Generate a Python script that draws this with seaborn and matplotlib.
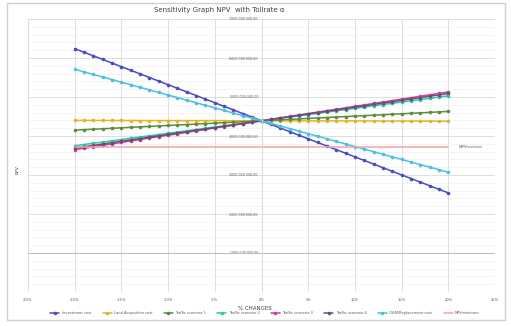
import matplotlib
matplotlib.use("Agg")
import matplotlib.pyplot as plt
from matplotlib.ticker import FuncFormatter, MultipleLocator
from matplotlib.patches import Rectangle
import seaborn as sns

# Percentage change applied to each input variable
changes = list(range(-20, 21))

# NPV in billions for each sensitivity variable
investment_cost = [6.240, 6.148, 6.055, 5.963, 5.870, 5.778, 5.685, 5.593, 5.500, 5.408,
                   5.315, 5.223, 5.130, 5.038, 4.945, 4.853, 4.760, 4.668, 4.575, 4.483,
                   4.390, 4.298, 4.205, 4.113, 4.020, 3.928, 3.835, 3.743, 3.650, 3.558,
                   3.465, 3.373, 3.280, 3.188, 3.095, 3.003, 2.910, 2.818, 2.725, 2.633, 2.540]
land_acquisition_cost = [4.400, 4.400, 4.399, 4.399, 4.398, 4.398, 4.397, 4.397, 4.396, 4.396,
                         4.395, 4.395, 4.394, 4.394, 4.393, 4.393, 4.392, 4.392, 4.391, 4.391,
                         4.390, 4.390, 4.389, 4.389, 4.388, 4.388, 4.387, 4.387, 4.386, 4.386,
                         4.385, 4.385, 4.384, 4.384, 4.383, 4.383, 4.382, 4.382, 4.381, 4.381, 4.380]
traffic_scenario_1 = [4.150, 4.162, 4.174, 4.186, 4.198, 4.210, 4.222, 4.234, 4.246, 4.258,
                      4.270, 4.282, 4.294, 4.306, 4.318, 4.330, 4.342, 4.354, 4.366, 4.378,
                      4.390, 4.402, 4.414, 4.426, 4.438, 4.450, 4.462, 4.474, 4.486, 4.498,
                      4.510, 4.522, 4.534, 4.546, 4.558, 4.570, 4.582, 4.594, 4.606, 4.618, 4.630]
traffic_scenario_2 = [3.750, 3.782, 3.814, 3.846, 3.878, 3.910, 3.942, 3.974, 4.006, 4.038,
                      4.070, 4.102, 4.134, 4.166, 4.198, 4.230, 4.262, 4.294, 4.326, 4.358,
                      4.390, 4.422, 4.454, 4.486, 4.518, 4.550, 4.582, 4.614, 4.646, 4.678,
                      4.710, 4.742, 4.774, 4.806, 4.838, 4.870, 4.902, 4.934, 4.966, 4.998, 5.030]
traffic_scenario_3 = [3.650, 3.687, 3.724, 3.761, 3.798, 3.835, 3.872, 3.909, 3.946, 3.983,
                      4.020, 4.057, 4.094, 4.131, 4.168, 4.205, 4.242, 4.279, 4.316, 4.353,
                      4.390, 4.427, 4.464, 4.501, 4.538, 4.575, 4.612, 4.649, 4.686, 4.723,
                      4.760, 4.797, 4.834, 4.871, 4.908, 4.945, 4.982, 5.019, 5.056, 5.093, 5.130]
traffic_scenario_4 = [3.690, 3.725, 3.760, 3.795, 3.830, 3.865, 3.900, 3.935, 3.970, 4.005,
                      4.040, 4.075, 4.110, 4.145, 4.180, 4.215, 4.250, 4.285, 4.320, 4.355,
                      4.390, 4.425, 4.460, 4.495, 4.530, 4.565, 4.600, 4.635, 4.670, 4.705,
                      4.740, 4.775, 4.810, 4.845, 4.880, 4.915, 4.950, 4.985, 5.020, 5.055, 5.090]
om_replacement_cost = [5.710, 5.644, 5.578, 5.512, 5.446, 5.380, 5.314, 5.248, 5.182, 5.116,
                       5.050, 4.984, 4.918, 4.852, 4.786, 4.720, 4.654, 4.588, 4.522, 4.456,
                       4.390, 4.324, 4.258, 4.192, 4.126, 4.060, 3.994, 3.928, 3.862, 3.796,
                       3.730, 3.664, 3.598, 3.532, 3.466, 3.400, 3.334, 3.268, 3.202, 3.136, 3.070]
npv_minimum = 3.72

x_ticks = [-25, -20, -15, -10, -5, 0, 5, 10, 15, 20, 25]
y_ticks = [1, 2, 3, 4, 5, 6, 7]

series = [
    ("Investment cost", investment_cost, "#4b4bc6"),
    ("Land Acquisition cost", land_acquisition_cost, "#e3b32a"),
    ("Traffic scenario 1", traffic_scenario_1, "#5e8c3e"),
    ("Traffic scenario 2", traffic_scenario_2, "#2fc6a6"),
    ("Traffic scenario 3", traffic_scenario_3, "#d93a9e"),
    ("Traffic scenario 4", traffic_scenario_4, "#6a4f7a"),
    ("O&M/Replacement cost", om_replacement_cost, "#4cc0df"),
]

sns.set_theme(style="white")
plt.rcParams["font.family"] = ["DejaVu Sans"]

fig = plt.figure(figsize=(5.11, 3.26), dpi=100)
fig.patch.set_facecolor("white")
ax = fig.add_axes([28 / 511, 1 - 292 / 326, 467 / 511, 273 / 326])

for label, values, color in series:
    sns.lineplot(x=changes, y=values, ax=ax, color=color, marker="o",
                 markersize=2.6, markeredgewidth=0, linewidth=1.1, label=label)
sns.lineplot(x=[changes[0], changes[-1]], y=[npv_minimum, npv_minimum], ax=ax,
             color="#f4a3a3", linewidth=1.1, label="NPVminimum")

ax.text(21, npv_minimum, r"NPV$_{minimum}$", fontsize=3.2, color="#595959", va="center")

ax.set_xlim(x_ticks[0], x_ticks[-1])
ax.set_ylim(0, 7)
ax.set_xticks(x_ticks)
ax.set_xticklabels([f"{t}%" for t in x_ticks])
ax.set_yticks(y_ticks)
ax.yaxis.set_minor_locator(MultipleLocator(0.2))


def euro_format(v, pos):
    s = f"{v * 1e9:,.2f}"
    return s.replace(",", "X").replace(".", ",").replace("X", ".")


ax.yaxis.set_major_formatter(FuncFormatter(euro_format))
ax.grid(which="major", color="#d9d9d9", linewidth=0.6)
ax.grid(which="minor", axis="y", color="#f0f0f0", linewidth=0.5)
ax.set_axisbelow(True)
ax.axhline(y_ticks[0], color="#bfbfbf", linewidth=0.8, zorder=1)

for side in ["top", "right", "bottom"]:
    ax.spines[side].set_visible(False)
ax.spines["left"].set_position(("data", 0))
ax.spines["left"].set_color("#d9d9d9")
ax.spines["left"].set_linewidth(0.6)

ax.tick_params(axis="y", labelsize=2.3, labelcolor="#595959", length=0, pad=2)
ax.tick_params(axis="x", labelsize=2.6, labelcolor="#595959", length=0, pad=4)
ax.set_xlabel("")
ax.set_ylabel("")

fig.text(255 / 511, 1 - 309 / 326, "% CHANGES", fontsize=4, color="#404040",
         ha="center", va="center")
fig.text(18 / 511, 1 - 170 / 326, "NPV", fontsize=3.2, color="#404040",
         rotation=90, ha="center", va="center")
fig.text(219 / 511, 1 - 10 / 326, "Sensitivity Graph NPV  with Tollrate α", fontsize=5,
         color="#404040", ha="center", va="center")

handles, labels = ax.get_legend_handles_labels()
ax.get_legend().remove()
fig.legend(handles, labels, loc="center", bbox_to_anchor=(265 / 511, 1 - 313 / 326),
           ncol=8, fontsize=2.6, frameon=False, handlelength=2.5, columnspacing=3.2,
           handletextpad=0.6, labelcolor="#595959")

fig.add_artist(Rectangle((7 / 511, 1 - 320 / 326), 498 / 511, 317 / 326,
                         transform=fig.transFigure, fill=False,
                         edgecolor="#d0d0d0", linewidth=1))

fig.savefig("out.png", dpi=100)
